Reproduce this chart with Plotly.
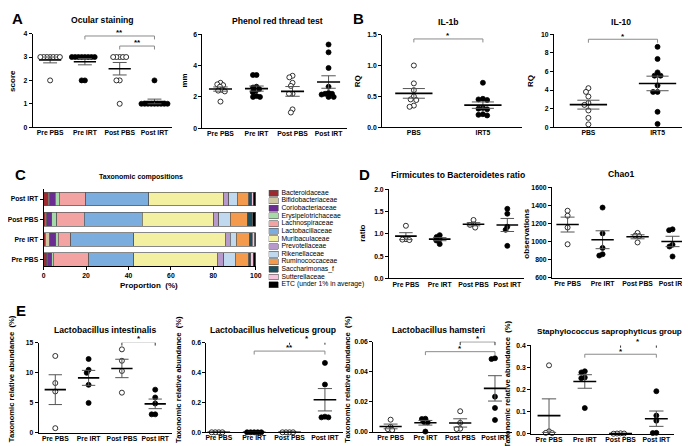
import numpy as np
import plotly.graph_objects as go

# ---------------- data ----------------
groups4 = ["Pre PBS", "Pre IRT", "Post PBS", "Post IRT"]
groups2 = ["PBS", "IRT5"]

ocular_pre_pbs = [3, 3, 3, 3, 3, 3, 3, 2]
ocular_pre_irt = [3, 3, 3, 3, 3, 3, 3, 3, 2, 2]
ocular_post_pbs = [3, 3, 3, 3, 3, 2, 2, 1]
ocular_post_irt = [2, 1, 1, 1, 1, 1, 1, 1, 1, 1]

phenol_pre_pbs = [2.9, 2.8, 2.75, 2.65, 2.45, 2.4, 2.35, 1.7]
phenol_pre_irt = [3.4, 3.4, 2.65, 2.6, 2.5, 2.4, 2.3, 2.05, 2.0, 2.0]
phenol_post_pbs = [3.35, 3.25, 2.9, 2.7, 2.2, 2.2, 1.2, 1.0]
phenol_post_irt = [5.35, 4.85, 3.85, 2.65, 2.25, 2.2, 2.2, 2.15, 2.0, 2.0]

il1b_pbs = [1.0, 0.71, 0.6, 0.5, 0.45, 0.44, 0.35, 0.33]
il1b_irt5 = [0.72, 0.46, 0.45, 0.44, 0.31, 0.3, 0.29, 0.21, 0.2, 0.19]

il10_pbs = [4.2, 3.8, 3.3, 2.6, 2.4, 1.8, 1.0, 0.3]
il10_irt5 = [8.65, 7.35, 5.9, 5.55, 5.55, 4.5, 3.8, 3.8, 1.65, 0.35]

taxa = ["Bacteroidaceae", "Bifidobacteriaceae", "Coriobacteriaceae", "Erysipelotrichaceae",
        "Lachnospiraceae", "Lactobacillaceae", "Muribaculaceae", "Prevotellaceae",
        "Rikenellaceae", "Ruminococcaceae", "Saccharimonas_f", "Sutterellaceae",
        "ETC (under 1% in average)"]
taxa_colors = ["#9e2a2f", "#cfc7a0", "#6b2c91", "#a5d9a7", "#f4a3a3", "#7badde", "#f3f0a2",
               "#b79acb", "#c0d9ef", "#f39a4c", "#1d4f5e", "#f6c4dd", "#000000"]
tax_pre_pbs = [1.4, 0.5, 2.0, 0.7, 16.8, 21.2, 39.3, 2.9, 5.6, 6.2, 1.1, 1.2, 1.1]
tax_pre_irt = [0.8, 2.0, 2.9, 1.3, 5.7, 29.9, 43.1, 2.3, 2.7, 6.2, 1.5, 1.1, 0.5]
tax_post_pbs = [0.8, 0.6, 2.5, 2.3, 13.0, 27.3, 33.7, 2.4, 5.4, 8.1, 2.3, 0.2, 1.4]
tax_post_irt = [2.3, 0.5, 2.6, 2.0, 12.4, 29.8, 35.2, 2.5, 3.9, 5.4, 1.5, 0.6, 1.3]

fb_pre_pbs = [1.18, 0.88, 0.87, 0.86]
fb_pre_irt = [0.97, 0.93, 0.88, 0.85, 0.77]
fb_post_pbs = [1.31, 1.21, 1.2, 1.14]
fb_post_irt = [1.56, 1.45, 1.16, 1.09, 0.73]

chao_pre_pbs = [1340, 1285, 1155, 970]
chao_pre_irt = [1375, 1090, 930, 860, 845]
chao_post_pbs = [1095, 1065, 1060, 990]
chao_post_irt = [1135, 1125, 965, 945, 835]

intest_pre_pbs = [12.8, 8.3, 6.9, 0.8]
intest_pre_irt = [12.3, 10.5, 10.0, 8.0, 5.0]
intest_post_pbs = [13.9, 12.0, 10.3, 6.7]
intest_post_irt = [7.2, 5.9, 4.9, 3.1, 3.1]

helv_pre_pbs = [0.0, 0.0, 0.0, 0.0]
helv_pre_irt = [0.0, 0.0, 0.0, 0.0, 0.0]
helv_post_pbs = [0.0, 0.0, 0.0, 0.0]
helv_post_irt = [0.465, 0.32, 0.105, 0.1, 0.1]

hams_pre_pbs = [0.0082, 0.0034, 0.0019, 0.0013]
hams_pre_irt = [0.0088, 0.0086, 0.0066, 0.0064, 0.0003]
hams_post_pbs = [0.0138, 0.0061, 0.0022, 0.002]
hams_post_irt = [0.049, 0.0485, 0.0235, 0.016, 0.008]

staph_pre_pbs = [0.31, 0.012, 0.005, 0.004]
staph_pre_irt = [0.283, 0.278, 0.255, 0.252, 0.117]
staph_post_pbs = [0.003, 0.002, 0.002, 0.001]
staph_post_irt = [0.193, 0.083, 0.06, 0.005, 0.004]

# ---------------- figure helpers ----------------
W, H = 690, 446
FONT = "Liberation Sans, Arial, sans-serif"
TICKFONT = dict(family=FONT, size=6.8, color="black", weight="bold")

fig = go.Figure()
layout = dict(width=W, height=H, margin=dict(l=0, r=0, t=0, b=0),
              paper_bgcolor="white", plot_bgcolor="white", showlegend=False,
              barmode="stack", font=dict(family=FONT, color="black"))
annotations = []
ax_count = [0]

base_axis = dict(showline=True, linecolor="black", linewidth=1, ticks="outside",
                 ticklen=3, tickwidth=1, tickcolor="black", showgrid=False,
                 zeroline=False, tickfont=TICKFONT, fixedrange=True)


def xd(x0, x1):
    return [x0 / W, x1 / W]


def yd(top, bottom):
    return [1 - bottom / H, 1 - top / H]


def new_axes(xdom, ydom, xkw, ykw):
    ax_count[0] += 1
    n = ax_count[0]
    s = "" if n == 1 else str(n)
    xa = dict(base_axis, domain=xd(*xdom), anchor="y" + s)
    xa.update(xkw)
    ya = dict(base_axis, domain=yd(*ydom), anchor="x" + s)
    ya.update(ykw)
    layout["xaxis" + s] = xa
    layout["yaxis" + s] = ya
    return "x" + s, "y" + s


def text(x, y, t, size=8.6, bold=True, angle=0, xanchor="center", yanchor="middle"):
    annotations.append(dict(x=x / W, y=1 - y / H, xref="paper", yref="paper", text=t,
                            showarrow=False, textangle=angle, xanchor=xanchor, yanchor=yanchor,
                            borderpad=0,
                            font=dict(family=FONT, size=size, color="black",
                                      weight="bold" if bold else "normal")))


def swarm(values, xscale, yscale, sep):
    placed = []
    offs = np.zeros(len(values))
    order = np.argsort(-np.asarray(values), kind="stable")
    for i in order:
        y = values[i] * yscale
        intervals = []
        for px, py in placed:
            dy = abs(py - y)
            if dy < sep:
                dx = np.sqrt(sep ** 2 - dy ** 2)
                intervals.append((px - dx, px + dx))
        cands = [0.0] + [a for a, b in intervals] + [b for a, b in intervals]
        cands.sort(key=lambda c: (round(abs(c), 6), c))
        for c in cands:
            if all(not (a + 1e-9 < c < b - 1e-9) for a, b in intervals):
                offs[i] = c
                break
        placed.append((offs[i], y))
    return offs / xscale


def dot_panel(data, cats, xdom, ydom, xr, yr, dtick, fmt, title, title_xy, ylabel, ylab_xy,
              mean_hw, sem_hw, brackets=(), sep=3.6, ylab_size=8, title_size=8.6):
    xa, ya = new_axes(xdom, ydom,
                      dict(range=xr, tickvals=list(range(len(cats))), ticktext=cats, ticks="",
                           ticklen=0, ticklabelstandoff=-1),
                      dict(range=yr, dtick=dtick, tickformat=fmt))
    xscale = (xdom[1] - xdom[0]) / (xr[1] - xr[0])
    yscale = (ydom[1] - ydom[0]) / (yr[1] - yr[0])
    for i, vals in enumerate(data):
        vals = np.asarray(vals, float)
        off = swarm(vals, xscale, yscale, sep)
        filled = (i % 2 == 1)
        fig.add_trace(go.Scatter(x=i + off, y=vals, mode="markers", xaxis=xa, yaxis=ya,
                                 cliponaxis=False, hoverinfo="skip",
                                 marker=dict(symbol="circle", size=5,
                                             color="black" if filled else "white",
                                             line=dict(color="black", width=0.8))))
        m = vals.mean()
        s = vals.std(ddof=1) / np.sqrt(len(vals))
        fig.add_trace(go.Scatter(x=[i - sem_hw, i + sem_hw, None, i, i, None, i - sem_hw, i + sem_hw],
                                 y=[m + s, m + s, None, m + s, m - s, None, m - s, m - s],
                                 mode="lines", xaxis=xa, yaxis=ya, cliponaxis=False,
                                 hoverinfo="skip", line=dict(color="#555555", width=1)))
        fig.add_trace(go.Scatter(x=[i - mean_hw, i + mean_hw], y=[m, m], mode="lines",
                                 xaxis=xa, yaxis=ya, cliponaxis=False, hoverinfo="skip",
                                 line=dict(color="black", width=1.6)))
    drop = 3.5 / yscale
    for g1, g2, h, lab, col in brackets:
        fig.add_trace(go.Scatter(x=[g1, g1, g2, g2], y=[h - drop, h, h, h - drop], mode="lines",
                                 xaxis=xa, yaxis=ya, cliponaxis=False, hoverinfo="skip",
                                 line=dict(color=col, width=1)))
        px = xdom[0] + ((g1 + g2) / 2 - xr[0]) * xscale
        py = ydom[1] - (h - yr[0]) * yscale
        text(px, py - 3.2, lab, size=8, yanchor="middle")
    text(title_xy[0], title_xy[1], title, size=title_size)
    text(ylab_xy[0], ylab_xy[1], ylabel, size=ylab_size, angle=-90)


G = "#8a8a8a"
D = "#333333"

# ---------------- Panel A ----------------
dot_panel([ocular_pre_pbs, ocular_pre_irt, ocular_post_pbs, ocular_post_irt], groups4,
          (22, 163), (22, 117), [-0.5, 3.5], [0, 4], 1, "d",
          "Ocular staining", (93, 8), "score", (2, 70), 0.32, 0.2,
          brackets=[(1, 3, 3.9, "**", G), (2, 3, 3.47, "**", G)], sep=3.3)
dot_panel([phenol_pre_pbs, phenol_pre_irt, phenol_post_pbs, phenol_post_irt], groups4,
          (194, 340), (22.7, 118), [-0.5, 3.5], [0, 6], 2, "d",
          "Phenol red thread test", (270, 9), "mm", (176, 70), 0.32, 0.2)

# ---------------- Panel B ----------------
dot_panel([il1b_pbs, il1b_irt5], groups2, (376, 518), (23, 117), [-0.46, 1.57], [0, 1.5], 0.5, ".1f",
          "IL-1b", (443, 10), "RQ", (351, 70), 0.27, 0.16,
          brackets=[(0, 1, 1.43, "*", G)], sep=4.5)
dot_panel([il10_pbs, il10_irt5], groups2, (550, 688), (22.7, 117), [-0.5, 1.47], [0, 10], 2, "d",
          "IL-10", (618, 10), "RQ", (527, 70), 0.27, 0.16,
          brackets=[(0, 1, 9.47, "*", G)], sep=4.5)

# ---------------- Panel C ----------------
xa, ya = new_axes((33, 248), (180, 258),
                  dict(range=[0, 100], dtick=20, tickformat="d"),
                  dict(range=[-0.306, 3.486], tickvals=[0, 1, 2, 3], ticktext=groups4))
tax_groups = [tax_pre_pbs, tax_pre_irt, tax_post_pbs, tax_post_irt]
for k, name in enumerate(taxa):
    fig.add_trace(go.Bar(x=[g[k] for g in tax_groups], y=[0, 1, 2, 3], orientation="h",
                         name=name, xaxis=xa, yaxis=ya, width=0.68, hoverinfo="skip",
                         marker=dict(color=taxa_colors[k], line=dict(color="#555555", width=0.7))))
text(132, 168, "Taxonomic compositions", size=7)
text(140, 278, "Proportion  (%)", size=8)

# custom compact legend
lx, ly = new_axes((261, 351), (180.1, 280.85),
                  dict(range=[0, 90], showline=False, showticklabels=False, ticks=""),
                  dict(range=[len(taxa) - 0.5, -0.5], showline=False, showticklabels=False, ticks=""))
fig.add_trace(go.Bar(x=[10] * len(taxa), y=list(range(len(taxa))), orientation="h", base=0,
                     xaxis=lx, yaxis=ly, width=0.78, hoverinfo="skip",
                     marker=dict(color=taxa_colors, line=dict(color="#555555", width=0.6))))
fig.add_trace(go.Scatter(x=[13] * len(taxa), y=list(range(len(taxa))), mode="text", text=taxa,
                         textposition="middle right", xaxis=lx, yaxis=ly, cliponaxis=False,
                         hoverinfo="skip", textfont=dict(family=FONT, size=6.8, color="black")))

# ---------------- Panel D ----------------
dot_panel([fb_pre_pbs, fb_pre_irt, fb_post_pbs, fb_post_irt], groups4,
          (383, 520), (180, 270.7), [-0.5, 3.5], [0, 2], 0.5, ".1f",
          "Firmicutes to Bacteroidetes ratio", (453, 166), "ratio", (356, 225), 0.32, 0.2)
dot_panel([chao_pre_pbs, chao_pre_irt, chao_post_pbs, chao_post_irt], groups4,
          (548, 688), (178, 270), [-0.45, 3.5], [600, 1600], 200, "d",
          "Chao1", (618, 165), "observations", (522, 225), 0.32, 0.2)

# ---------------- Panel E ----------------
YL = "Taxonomic relative abundance  (%)"
dot_panel([intest_pre_pbs, intest_pre_irt, intest_post_pbs, intest_post_irt], groups4,
          (28, 163), (336, 427.7), [-0.5, 3.5], [0, 15], 5, "d",
          "Lactobacillus intestinalis", (95, 323), YL, (0, 373), 0.32, 0.2,
          brackets=[(2, 3, 15.1, "*", D)], ylab_size=7.6)
dot_panel([helv_pre_pbs, helv_pre_irt, helv_post_pbs, helv_post_irt], groups4,
          (198, 336), (336, 427), [-0.35, 3.5], [0, 0.6], 0.2, ".1f",
          "Lactobacillus helveticus group", (265, 323), YL, (169, 373), 0.32, 0.2,
          brackets=[(2, 3, 0.61, "*", D), (1, 3, 0.544, "**", G)], ylab_size=7.6)
dot_panel([hams_pre_pbs, hams_pre_irt, hams_post_pbs, hams_post_irt], groups4,
          (367, 508), (335, 426.7), [-0.5, 3.5], [0, 0.06], 0.02, ".2f",
          "Lactobacillus hamsteri", (433, 323), YL, (341, 373), 0.32, 0.2,
          brackets=[(2, 3, 0.06, "*", D), (1, 3, 0.0534, "*", G)], ylab_size=7.6)
dot_panel([staph_pre_pbs, staph_pre_irt, staph_post_pbs, staph_post_irt], groups4,
          (527, 672), (338.7, 428.7), [-0.5, 3.5], [0, 0.4], 0.1, ".1f",
          "Staphylococcus saprophyticus group", (606, 325), YL, (503, 378), 0.32, 0.2,
          brackets=[(2, 3, 0.405, "*", D), (1, 3, 0.36, "*", G)], ylab_size=7.6, title_size=8.1)

# ---------------- panel letters ----------------
for letter, (px, py) in zip("ABCDE", [(7, 7), (352, 7), (10, 165), (358, 165), (10, 303)]):
    text(px, py, letter, size=15)

layout["annotations"] = annotations
fig.update_layout(**layout)
fig.write_html("out.html")
